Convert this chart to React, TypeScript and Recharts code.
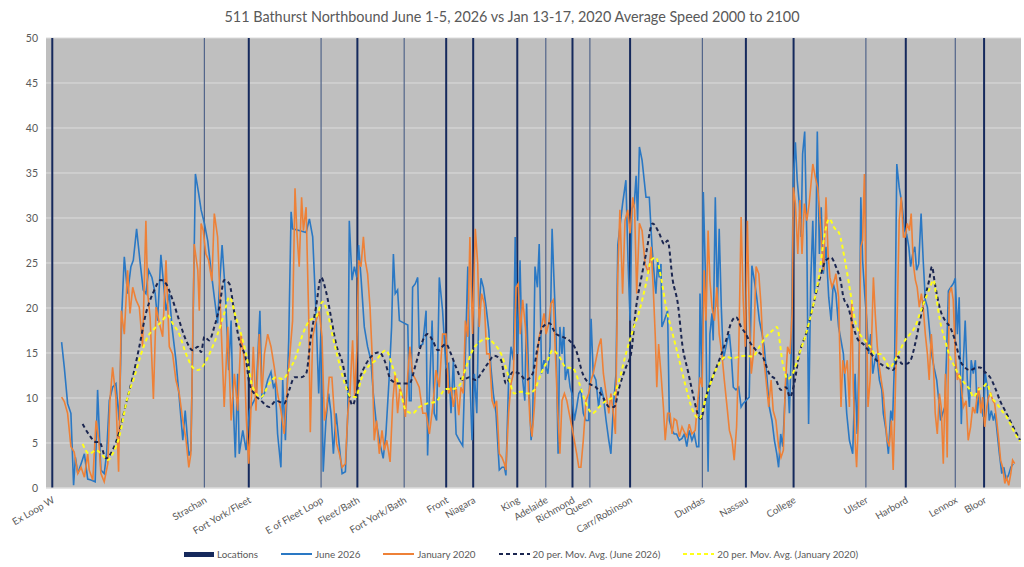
import React from "react";
import { ComposedChart, Line, Bar, XAxis, YAxis, CartesianGrid, Legend } from "recharts";

// Route positions (segment numbers along the route) of the stop/location markers
const locationNames = [
  "Ex Loop W", "Strachan", "Fort York/Fleet", "E of Fleet Loop", "Fleet/Bath", "Fort York/Bath",
  "Front", "Niagara", "King", "Adelaide", "Richmond", "Queen", "Carr/Robinson", "Dundas",
  "Nassau", "College", "Ulster", "Harbord", "Lennox", "Bloor",
];
const locationPositions = [
  2.1, 52.8, 67.6, 91.7, 103.8, 119.4, 133.4, 142.4, 157.1, 166.6, 175.5, 181.3, 194.7, 218.8,
  233.3, 249.2, 273.3, 286.6, 303.1, 312.7,
];
// minor (thin) markers vs major (heavy) markers
const locationMinor = [
  false, true, false, true, false, true, false, false, false, true, false, true, false, true,
  false, false, true, false, true, false,
];
const locationMarkHeight = 50;

const yTicks = [0, 5, 10, 15, 20, 25, 30, 35, 40, 45, 50];

// [route position, average speed km/h]
const june2026: [number, number][] = [
  [5.2,16.2],[6.1,13.4],[7.2,9.4],[8.3,8.3],[9.2,0.3],[9.8,3.4],[10.6,1.6],[11.7,2.7],[12.8,3.8],[13.9,1.0],[15,0.9],[16.4,0.7],[17.2,10.9],[18.3,2.0],[19.4,1.6],[20.2,3.8],[21.1,9.7],[22.2,11.2],[23.3,11.6],[24.4,7.5],[25.3,19.7],[26.1,25.7],[27.2,21.6],[28.3,24.6],[29.1,25.3],[30.2,28.8],[31.3,25.3],[32.4,22.0],[33.3,21.6],[34.2,24.2],[35.3,23.4],[36.4,21.6],[37.2,18.6],[38.3,25.9],[39.1,23.0],[40,19.7],[41.1,21.6],[42,17.9],[43.3,14.2],[44.4,10.1],[45.6,5.3],[46.4,8.6],[47.6,3.6],[48.3,4.2],[48.9,15.7],[49.8,34.9],[50.9,32.7],[51.7,30.9],[52.8,29.4],[53.9,27.5],[55,24.2],[56.1,21.2],[57.2,18.3],[57.8,22.3],[58.7,27.0],[59.8,21.6],[60.9,13.1],[61.7,18.6],[62.2,11.2],[63.1,3.4],[63.9,12.7],[64.4,3.8],[65.6,6.4],[66.7,4.2],
  [67.8,8.6],[68.9,9.4],[70,10.1],[71.3,19.7],[72,10.1],[72.8,10.5],[73.9,12.0],[75,12.9],[75.8,11.2],[76.4,11.6],[77.2,6.0],[78.3,2.3],[78.9,12.0],[79.8,5.3],[80.9,16.4],[81.7,30.7],[82.2,28.8],[84.4,28.6],[86.7,28.4],[87.8,29.9],[88.9,27.9],[90,19.4],[90.9,10.5],[91.7,17.9],[92.4,1.8],[93.3,7.5],[94.2,10.5],[95,8.3],[95.8,3.8],[96.7,8.3],[97.8,4.6],[98.7,1.6],[99.8,1.8],[100.6,8.3],[101.1,29.7],[102,23.1],[102.8,24.6],[103.6,23.4],[104.2,27.0],[105,23.4],[106.1,17.9],[107.2,15.7],[108.3,14.2],[109.1,10.5],[110,7.5],[111.1,5.3],[112.4,3.3],[113.3,6.0],[114.4,12.3],[115.2,17.9],[115.8,26.0],[116.4,21.6],[117.2,22.0],[117.8,18.6],[118.9,18.4],[120.6,18.1],[121.1,9.7],[121.7,9.7],[122.2,22.3],[123.1,22.7],[123.9,23.4],[124.4,15.7],[125.6,16.0],[126.7,19.7],[127.2,3.6],[127.8,10.5],[128.7,18.6],[129.4,8.3],[130.2,7.5],[131.1,23.4],[132.2,19.7],
  [133.3,13.4],[134.2,13.8],[135,8.3],[135.8,14.2],[136.7,6.0],[137.8,5.3],[138.9,4.7],[139.8,14.9],[140.6,24.6],[141.3,12.3],[142,5.3],[142.8,12.7],[143.6,8.3],[144.2,18.6],[145,23.3],[145.8,22.3],[146.7,20.1],[147.6,17.5],[148.3,13.4],[149.1,10.5],[150,8.3],[151.1,2.0],[152,2.3],[152.8,2.3],[153.3,1.4],[154.2,12.0],[155,15.7],[155.8,14.2],[156.4,27.9],[157.2,14.9],[158,25.3],[158.9,12.0],[159.6,9.7],[160.2,20.5],[160.9,12.0],[161.7,5.3],[162.2,7.1],[163,24.6],[163.8,22.3],[164.4,27.1],[165.2,12.7],[166,14.2],[166.7,13.4],[167.3,12.7],[168,15.7],[168.7,28.8],[169.3,23.4],[170,17.1],[170.7,3.8],[171.3,17.9],[172,14.9],[172.6,17.9],[173.1,12.0],[173.9,13.4],[174.7,11.2],[175.3,10.5],[176.1,7.5],[176.9,9.0],[177.6,10.5],[178.3,10.9],[179.1,8.3],[180,7.5],[180.9,7.5],[181.7,18.8],[182.4,12.7],[183.3,12.0],[184.2,9.0],[185,11.2],[185.8,10.1],[186.7,7.5],[187.6,5.3],[188.3,3.8],[189.1,9.0],[190,12.7],[190.6,27.0],[191.3,29.0],[192.2,31.6],[193.3,34.2],[194,25.3],[194.7,18.6],[195.3,31.0],[196.1,31.6],[196.7,34.7],[197.2,29.7],[197.8,37.9],[198.7,36.4],
  [200,32.3],[201.1,32.3],[202,26.8],[202.8,23.4],[203.3,21.6],[203.9,25.3],[204.4,23.4],[205,24.9],[205.3,17.9],[206.1,18.6],[207.2,19.7],[207.8,7.5],[208.7,6.4],[209.4,6.0],[210.2,6.0],[211.1,5.3],[212,5.5],[212.8,6.0],[213.6,4.6],[214.4,6.4],[215.3,5.3],[216.1,6.0],[216.9,4.6],[217.6,4.6],[218,21.6],[218.7,12.0],[219.1,32.9],[219.8,23.8],[220.2,12.0],[220.7,1.8],[221.3,17.1],[222,19.4],[222.4,16.4],[223.1,32.3],[223.8,20.1],[224.4,28.8],[225.1,20.1],[225.8,14.2],[226.4,15.3],[227.1,16.4],[227.8,17.1],[228.4,14.9],[229.1,11.2],[230,10.9],[230.9,11.2],[231.7,9.0],[232.4,9.4],[233.3,9.7],[234.4,10.1],[235.3,24.7],[236.1,23.1],[236.9,21.2],[237.8,18.6],[238.7,17.1],[239.4,15.7],[240.2,12.7],[241.1,9.0],[242,7.5],[242.8,5.3],[243.6,3.8],[244.2,2.3],[244.9,6.0],[245.6,4.6],[246.4,10.5],[247.1,12.7],[247.8,8.3],[248.4,14.9],[249.1,34.2],[249.8,38.4],[250.4,34.2],[251.1,31.6],[251.7,27.9],[252.2,37.1],[252.9,39.6],[253.6,27.9],[254.2,7.1],[254.9,22.7],[255.6,29.7],[256.2,21.6],[256.7,29.7],[257.1,39.6],[257.8,26.0],[258.4,31.2],[259.1,23.8],[260,26.8],[260.9,21.2],[261.7,18.6],[262.4,22.7],[263.3,21.6],[264.2,17.9],
  [265.8,14.9],[266.9,8.3],[267.8,5.3],[268.9,3.8],[269.7,12.7],[270.4,6.0],[271.1,15.7],[271.6,32.3],[272.2,25.3],[272.9,21.6],[273.6,18.6],[274.2,14.9],[274.9,17.1],[275.6,12.7],[276.3,14.2],[276.9,14.9],[277.8,12.0],[278.6,10.9],[279.1,8.3],[280,6.4],[280.8,3.8],[281.6,8.6],[282.2,7.5],[282.9,14.9],[283.6,36.0],[284.4,33.4],[285.3,31.6],[286.2,28.6],[286.9,28.2],[287.6,26.8],[288.2,24.6],[288.9,26.0],[289.6,26.8],[290.2,24.2],[290.9,24.9],[291.7,30.5],[292.4,25.3],[293.1,20.9],[293.8,20.1],[294.4,17.9],[295.2,14.9],[296,13.4],[296.9,12.0],[297.6,9.7],[298.2,7.5],[298.9,8.3],[299.6,9.0],[300.2,14.9],[300.8,21.9],[301.6,22.3],[302.4,22.7],[303.1,23.3],[303.8,17.1],[304.4,21.2],[305.1,7.1],[305.8,14.2],[306.4,18.6],[307.1,12.0],[307.8,9.0],[308.4,14.2],[309.1,12.7],[309.8,14.2],[310.4,8.3],[311.1,10.5],[311.8,9.0],[312.4,7.9],[313.1,12.7],[313.8,11.2],[314.4,7.5],[315.1,8.6],[315.8,7.5],[316.4,8.3],[317.1,6.0],[317.8,3.8],[318.6,1.6],[319.3,2.3],[320,0.9],[320.8,1.4],[321.6,2.3],[322.4,2.7],
];

const january2020: [number, number][] = [
  [5.2,10.1],[6.1,9.6],[7.2,8.3],[8.3,4.6],[9.4,4.0],[10.6,1.6],[11.7,2.3],[12.8,1.2],[13.9,3.8],[14.4,2.0],[15.6,0.9],[16.7,7.5],[17.6,5.3],[18.3,1.6],[19.4,0.7],[20.6,2.7],[21.3,9.7],[22.2,13.4],[23.3,10.1],[24.2,1.8],[25.1,19.7],[26.1,17.1],[27.2,24.2],[28,19.4],[28.9,22.3],[30,20.9],[31.1,20.1],[32.2,15.7],[33.3,29.7],[33.9,21.6],[34.7,19.0],[35.8,9.9],[36.7,20.1],[37.8,18.3],[38.9,16.8],[40,25.3],[41.1,15.7],[42.2,14.9],[43.3,12.0],[44.4,10.5],[45.6,7.5],[46.7,5.3],[47.6,2.3],[48.3,3.8],[49.4,27.1],[50.6,24.2],[51.1,19.7],[51.7,29.4],[52.4,28.6],[53.3,26.0],[54.2,25.3],[55.3,23.0],[56.1,30.5],[57.2,27.9],[58.3,18.6],[59.4,9.0],[60.6,17.9],[61.7,7.5],[62.8,12.7],[63.9,8.6],[65,17.1],[66.1,14.2],[66.8,7.5],
  [67.6,2.7],[68.3,8.6],[69.1,15.7],[70,8.6],[71.1,17.1],[72,10.5],[72.8,14.9],[73.9,17.1],[75,15.7],[76.1,13.4],[77.2,10.5],[78.3,8.6],[79.4,6.0],[80.6,12.3],[81.3,14.9],[82.2,18.6],[83,33.3],[83.6,28.6],[84.4,24.6],[85.2,32.3],[85.8,28.6],[86.7,31.2],[87.6,18.6],[88.1,6.2],[88.9,16.8],[90,18.6],[91.1,19.6],[92,16.8],[92.8,7.5],[93.6,9.0],[94.4,12.3],[95.3,12.3],[96.1,8.3],[96.9,4.9],[97.8,3.8],[98.7,2.3],[99.8,2.7],[100.6,8.3],[101.3,10.5],[102.2,16.4],[102.9,10.1],[103.6,15.3],[104.2,25.3],[105,24.6],[105.8,27.9],[106.4,25.3],[107.2,23.8],[108,20.1],[108.7,14.9],[109.4,5.3],[110.2,7.5],[111.1,3.8],[112,6.4],[112.8,4.2],[113.6,5.3],[114.7,2.9],[115.6,9.7],[116.4,12.7],[117.2,8.3],[118,11.2],[118.9,10.1],[119.8,7.9],[120.6,12.7],[121.3,15.7],[122.2,12.7],[123.3,12.0],[124.4,11.2],[125.6,8.3],[126.7,8.3],[127.8,6.0],[128.9,9.0],[130,13.1],[131.1,11.2],[132.2,17.1],
  [133.3,17.1],[134.2,10.5],[135,11.2],[135.8,9.0],[136.7,11.2],[137.6,8.1],[138.3,11.2],[139.1,10.5],[139.8,18.6],[140.6,16.8],[141.3,27.9],[142.2,17.1],[143.1,28.8],[143.9,24.9],[144.4,17.9],[145.2,21.6],[146.1,20.5],[146.9,14.9],[147.8,14.9],[148.7,9.7],[149.4,9.0],[150.2,9.7],[151.1,3.8],[152,3.4],[152.8,2.7],[153.3,2.0],[154.2,8.3],[155,11.6],[155.8,12.7],[156.7,22.3],[157.4,22.7],[158.1,17.1],[158.9,20.9],[159.8,17.9],[160.6,12.7],[161.3,7.5],[162,5.7],[162.8,9.0],[163.6,14.2],[164.4,16.8],[165.2,17.9],[166,19.4],[166.7,17.1],[167.6,18.3],[168.3,20.5],[169.1,20.9],[169.8,14.9],[170.6,8.3],[171.3,3.8],[172,9.7],[172.8,10.5],[173.6,9.7],[174.4,8.3],[175.3,6.8],[176.1,5.3],[176.9,3.8],[177.6,2.3],[178.3,2.3],[179.1,5.3],[180,9.7],[180.9,10.5],[181.7,12.0],[182.4,12.7],[183.3,14.2],[184.2,15.7],[185,16.6],[185.8,12.7],[186.7,10.5],[187.6,8.3],[188.3,10.5],[189.1,8.3],[189.8,6.0],[190.6,23.8],[191.3,30.9],[192.2,21.6],[193,29.7],[193.9,30.9],[194.7,28.3],[195.6,32.3],[196.2,30.9],[196.9,21.6],[197.8,29.4],[198.7,28.6],[199.7,24.9],
  [200.9,23.8],[201.7,26.8],[202.4,22.3],[203.1,16.8],[203.6,11.2],[204.2,16.0],[205,12.7],[205.8,9.0],[206.4,5.3],[207.2,8.3],[208,8.3],[208.7,6.0],[209.4,7.7],[210.2,7.5],[211.1,5.7],[212,6.8],[212.8,6.2],[213.6,5.7],[214.4,7.1],[215.3,6.0],[216.4,6.4],[217.2,9.4],[218,12.3],[218.7,11.2],[219.4,24.2],[220,18.6],[220.7,28.6],[221.3,23.1],[222,20.1],[222.8,18.6],[223.6,22.3],[224.4,17.1],[225.3,14.9],[226.1,12.0],[226.9,9.4],[227.8,6.4],[228.7,5.3],[229.4,3.1],[230.2,6.8],[230.9,14.9],[231.7,30.1],[232.4,20.9],[233.1,15.7],[233.8,29.7],[234.4,19.4],[235.1,12.7],[235.8,14.9],[236.7,24.6],[237.6,23.8],[238.3,20.5],[239.1,14.9],[240,12.0],[240.9,9.0],[241.7,12.0],[242.4,8.6],[243.3,7.5],[244.2,4.6],[245,3.4],[245.8,4.2],[246.4,11.2],[247.2,15.7],[248,14.9],[248.7,19.4],[249.1,33.4],[249.8,31.6],[250.6,26.0],[251.3,32.0],[252,26.0],[252.8,31.6],[253.6,29.7],[254.4,31.6],[255.6,36.0],[256.4,34.6],[257.2,33.4],[257.8,31.2],[258.6,26.8],[259.2,24.2],[260,32.3],[260.7,26.0],[261.3,23.4],[262,22.3],[262.8,23.1],[263.3,23.8],[264.2,21.2],[265,9.0],
  [265.6,14.2],[266.3,12.7],[267.1,14.2],[267.8,9.0],[268.6,20.9],[269.1,11.2],[269.7,5.3],[270.2,2.3],[270.8,7.5],[271.6,26.8],[272.2,27.5],[272.8,34.9],[273.3,23.1],[274,9.0],[274.7,12.0],[275.2,16.4],[275.8,23.4],[276.4,19.4],[277.1,15.7],[277.8,13.4],[278.4,12.0],[279.1,10.5],[279.8,7.5],[280.4,5.3],[281.1,4.6],[281.8,7.5],[282.4,2.0],[283.1,10.5],[283.8,20.1],[284.4,29.7],[285.1,32.3],[285.8,27.9],[286.4,27.9],[287.1,29.4],[287.8,28.6],[288.4,30.5],[289.1,24.9],[289.8,23.1],[290.4,22.3],[291.1,20.1],[291.8,21.6],[292.4,20.1],[293.1,17.1],[293.8,14.9],[294.4,12.0],[295.1,17.1],[295.8,13.8],[296.4,8.3],[297.1,6.0],[297.8,10.5],[298.4,9.0],[299.1,2.7],[299.8,12.7],[300.4,3.4],[301.1,21.6],[301.8,22.3],[302.4,20.9],[303.1,14.9],[303.8,12.0],[304.4,12.7],[305.1,11.2],[305.8,9.0],[306.7,9.7],[307.4,5.3],[308.2,6.8],[308.9,9.0],[309.6,8.3],[310.2,9.7],[310.9,11.2],[311.6,8.3],[312.2,10.1],[312.9,6.8],[313.6,9.0],[314.2,10.1],[314.9,10.5],[315.6,9.7],[316.2,9.4],[316.9,7.5],[317.6,5.3],[318.2,3.1],[318.9,2.3],[319.6,0.5],[320.2,1.2],[320.9,0.3],[321.6,1.6],[322.2,3.1],[322.9,2.7],
];

const movAvgJune2026: [number, number][] = [
  [12.2,7.1],[14.4,5.9],[16.7,5.1],[17.8,5.1],[20,3.3],[22.2,4.2],[24.4,6.2],[26.7,9.4],[28.9,12.3],[31.1,15.7],[33.3,19.4],[35.6,21.6],[38.3,23.1],[40,22.7],[42.2,20.9],[44.4,18.6],[46.7,16.4],[48.9,15.3],[50.6,15.7],[51.7,15.1],[52.8,16.8],[54.4,16.4],[56.1,17.9],[57.8,20.1],[59.4,23.1],[61.1,22.7],[62.8,19.4],[64.4,16.4],[66.7,14.2],
  [67.8,11.6],[69.4,10.5],[71.7,9.7],[74.4,9.0],[76.7,9.7],[79.4,9.4],[81.1,10.9],[82.8,12.3],[85,12.3],[86.7,12.7],[88.3,16.8],[90,20.1],[91.7,23.4],[93.3,21.9],[95,19.0],[96.7,16.0],[98.9,13.8],[100.6,10.9],[102.2,9.2],[104.4,12.0],[106.7,13.8],[109.4,14.9],[111.1,15.1],[112.8,14.2],[115,12.0],[117.8,11.6],[121.1,11.6],[123.3,13.8],[125.6,16.4],[127.2,17.1],[128.9,16.4],[130.6,15.3],
  [133.3,16.0],[135,14.9],[136.7,13.4],[138.9,12.0],[141.1,12.3],[143.3,12.0],[145,12.7],[147.2,13.8],[149.4,14.7],[151.7,14.2],[153.3,11.6],[155.6,12.9],[157.8,12.7],[160,12.0],[162.2,12.7],[163.9,15.7],[165.6,17.9],[167.8,18.3],[170,17.1],[172.2,16.8],[174.4,16.4],[176.7,15.3],[178.9,12.7],[181.1,11.6],[183.3,11.2],[185.6,10.1],[187.8,9.0],[189.4,9.0],[191.1,11.2],[193.3,13.4],[195,14.9],[196.7,20.1],[198.3,23.1],
  [200,26.0],[202.2,29.4],[204.4,28.3],[206.1,27.1],[207.2,27.5],[208.9,23.1],[210.6,20.5],[212.2,15.7],[213.9,13.1],[215.6,10.5],[217.2,8.3],[218.3,7.7],[220,10.1],[222.2,12.3],[224.4,14.2],[226.7,16.4],[228.3,18.3],[230,19.0],[231.7,17.9],[233.3,17.1],[235,16.0],[236.7,15.3],[238.9,14.6],[241.1,12.7],[243.3,12.0],[245,10.9],[246.7,11.2],[248,10.1],[249.4,11.6],[251.1,14.9],[253.3,17.1],[255.6,20.1],[257.8,23.1],[260,25.3],[261.7,25.6],[263.3,24.6],[265,22.8],
  [265.8,21.2],[267.4,20.1],[269.1,17.9],[270.8,16.4],[272.4,16.0],[274.1,15.3],[275.8,14.6],[277.4,14.0],[279.1,13.6],[280.8,13.3],[282.4,13.1],[284.1,14.6],[285.2,13.8],[286.9,13.8],[288.2,14.2],[289.7,16.0],[291.3,18.6],[293,21.2],[294.4,23.1],[295.3,24.6],[296.3,22.7],[298,19.9],[299.7,18.6],[301.3,17.9],[303,16.4],[304.7,14.2],[306.3,13.4],[308,13.1],[309.7,13.3],[311.3,13.4],[313,12.9],[314.7,12.3],[316.3,11.2],[318,9.7],[319.7,8.6],[321.3,7.5],[323,6.4],[324.7,5.3],
];

const movAvgJanuary2020: [number, number][] = [
  [12.2,4.9],[14.4,3.8],[16.7,4.2],[18.9,3.6],[20.6,3.1],[22.2,3.8],[24.4,5.7],[27.2,10.1],[29.4,12.3],[31.7,14.9],[33.9,16.8],[36.1,17.7],[38.3,18.4],[40.6,19.2],[42.2,18.3],[44.4,17.1],[46.7,14.9],[48.9,13.4],[50.6,13.1],[52.8,13.8],[55,15.3],[57.2,17.1],[59.4,19.4],[61.1,21.2],[63.3,19.0],[65.6,16.4],[66.7,14.9],
  [68.9,11.2],[71.7,10.1],[74.4,11.6],[76.7,12.3],[78.9,12.1],[81.1,13.1],[83.3,14.6],[85.6,17.1],[87.8,18.6],[90,19.0],[92.2,20.7],[93.9,19.4],[95.6,16.8],[97.8,13.8],[100,11.2],[101.7,10.1],[103.3,10.1],[105,12.0],[107.2,13.4],[110,14.2],[113.3,15.3],[115.6,13.4],[117.8,11.2],[120,8.6],[122.2,8.3],[124.4,9.0],[127.2,9.4],[130,9.6],[133.3,11.0],
  [135.6,11.0],[137.8,11.4],[140,13.4],[142.2,15.3],[144.4,16.2],[147.2,16.6],[149.4,16.0],[151.7,14.9],[153.9,12.7],[156.1,10.5],[158.3,10.7],[160.6,10.5],[162.8,10.9],[165,12.7],[167.2,14.2],[168.9,15.3],[171.1,14.6],[173.3,13.4],[175.6,13.3],[177.8,11.6],[180,9.4],[182.2,8.3],[184.4,9.0],[186.7,9.7],[188.9,10.1],[191.1,12.0],[193.3,14.9],[195.6,17.5],[197.8,19.7],
  [200,22.7],[201.7,25.3],[203.3,25.6],[205,23.4],[206.7,20.1],[208.9,17.1],[211.1,14.2],[213.3,11.2],[215.6,8.6],[217.8,7.7],[220,10.1],[222.2,12.3],[224.4,13.8],[226.7,14.6],[228.9,14.4],[231.1,14.6],[233.3,14.7],[235.6,14.6],[237.8,15.7],[240,16.8],[242.2,17.5],[243.6,17.9],[245.6,13.8],[247.2,12.1],[248.9,12.7],[251.1,14.9],[253.3,17.1],[255.6,20.1],[257.8,23.8],[259.4,27.9],[261.1,29.9],[262.8,28.9],[264.4,28.3],
  [266.3,25.3],[268,22.0],[269.7,18.6],[271.3,17.1],[273,16.4],[274.7,15.7],[276.3,14.9],[278,14.9],[279.7,14.2],[281.3,13.4],[283,14.2],[284.7,15.3],[286.3,16.4],[288,17.1],[289.7,17.9],[291.3,19.4],[293,20.9],[294.7,22.3],[295.8,23.1],[296.9,20.9],[298,18.6],[299.7,16.4],[301.3,14.6],[303,13.4],[304.7,12.3],[306.3,11.6],[308,10.9],[309.1,10.1],[310.8,10.9],[312.4,11.2],[313.6,11.6],[315.2,10.1],[316.9,9.4],[318.6,8.6],[320.2,7.9],[321.9,6.8],[323.6,5.7],[324.7,5.2],
];

const COLORS = {
  locations: "#15295c",
  locationsMinor: "#52658a",
  june: "#2a78c4",
  january: "#ee8137",
  maJune: "#1b2650",
  maJanuary: "#ffff1a",
  text: "#595959",
  plot: "#bfbfbf",
  grid: "#dcdcdc",
};

const FONT = "Lato, 'Open Sans', sans-serif";

const toRows = (arr: [number, number][]) => arr.map(([pos, speed]) => ({ pos, speed }));

const locationRows = locationPositions.map((pos, i) => ({
  pos,
  mark: locationMarkHeight,
  name: locationNames[i],
  minor: locationMinor[i],
}));

const LocationShape = (props: any) => {
  const { x, y, width, height, payload } = props;
  const minor = payload && payload.minor;
  const w = minor ? 1.2 : 2;
  const cx = x + width / 2;
  return (
    <rect
      x={cx - w / 2}
      y={y}
      width={w}
      height={height}
      fill={minor ? COLORS.locationsMinor : COLORS.locations}
    />
  );
};

const LocationTick = (props: any) => {
  const { x, y, payload } = props;
  const idx = locationPositions.indexOf(payload.value);
  const label = idx >= 0 ? locationNames[idx] : "";
  return (
    <g transform={`translate(${x + 3},${y + 6})`}>
      <text
        textAnchor="end"
        transform="rotate(-30)"
        fill={COLORS.text}
        fontSize={9.8}
        fontFamily={FONT}
      >
        {label}
      </text>
    </g>
  );
};

const LegendContent = () => {
  const item = (swatch: React.ReactNode, label: string, last = false) => (
    <div style={{ display: "flex", alignItems: "center", marginRight: last ? 0 : 23 }}>
      {swatch}
      <span style={{ marginLeft: 3, color: COLORS.text, fontSize: 9.8, fontFamily: FONT, whiteSpace: "nowrap" }}>{label}</span>
    </div>
  );
  const line = (color: string, dashed: boolean) => (
    <svg width={31} height={8} style={{ display: "block" }}>
      <line
        x1={0}
        y1={4}
        x2={31}
        y2={4}
        stroke={color}
        strokeWidth={2}
        strokeDasharray={dashed ? "4 3" : undefined}
      />
    </svg>
  );
  return (
    <div style={{ display: "flex", justifyContent: "center", alignItems: "center", paddingLeft: 18 }}>
      {item(<div style={{ width: 30, height: 5, background: COLORS.locations }} />, "Locations")}
      {item(line(COLORS.june, false), "June 2026")}
      {item(line(COLORS.january, false), "January 2020")}
      {item(line(COLORS.maJune, true), "20 per. Mov. Avg. (June 2026)")}
      {item(line(COLORS.maJanuary, true), "20 per. Mov. Avg. (January 2020)", true)}
    </div>
  );
};

export default function App() {
  return (
    <div style={{ position: "absolute", left: 0, top: 0, width: 1024, height: 567, background: "#fff", fontFamily: FONT }}>
      <div
        style={{
          position: "absolute",
          left: 0,
          top: 8,
          width: 1024,
          textAlign: "center",
          fontSize: 14.4,
          color: COLORS.text,
          fontFamily: FONT,
          zIndex: 2,
        }}
      >
        511 Bathurst Northbound June 1-5, 2026 vs Jan 13-17, 2020 Average Speed 2000 to 2100
      </div>
      <ComposedChart
        width={1024}
        height={567}
        data={locationRows}
        margin={{ top: 38, right: 3, bottom: 0, left: 6 }}
        style={{ fontFamily: FONT }}
      >
        <CartesianGrid vertical={false} stroke={COLORS.grid} fill={COLORS.plot} fillOpacity={1} />
        <XAxis
          dataKey="pos"
          type="number"
          domain={[0, 325]}
          ticks={locationPositions}
          interval={0}
          tick={<LocationTick />}
          tickLine={false}
          axisLine={{ stroke: COLORS.grid }}
          height={79}
          allowDataOverflow
        />
        <YAxis
          domain={[0, 50]}
          ticks={yTicks}
          interval={0}
          axisLine={false}
          tickLine={false}
          width={40}
          tick={{ fill: COLORS.text, fontSize: 10.5, fontFamily: FONT }}
        />
        <Bar dataKey="mark" name="Locations" barSize={2} shape={<LocationShape />} isAnimationActive={false} />
        <Line
          data={toRows(june2026)}
          dataKey="speed"
          name="June 2026"
          type="linear"
          stroke={COLORS.june}
          strokeWidth={1.6}
          dot={false}
          isAnimationActive={false}
        />
        <Line
          data={toRows(january2020)}
          dataKey="speed"
          name="January 2020"
          type="linear"
          stroke={COLORS.january}
          strokeWidth={1.6}
          dot={false}
          isAnimationActive={false}
        />
        <Line
          data={toRows(movAvgJune2026)}
          dataKey="speed"
          name="20 per. Mov. Avg. (June 2026)"
          type="monotone"
          stroke={COLORS.maJune}
          strokeWidth={2}
          strokeDasharray="4 3"
          dot={false}
          isAnimationActive={false}
        />
        <Line
          data={toRows(movAvgJanuary2020)}
          dataKey="speed"
          name="20 per. Mov. Avg. (January 2020)"
          type="monotone"
          stroke={COLORS.maJanuary}
          strokeWidth={2}
          strokeDasharray="4 3"
          dot={false}
          isAnimationActive={false}
        />
        <Legend
          verticalAlign="middle"
          layout="horizontal"
          content={<LegendContent />}
          wrapperStyle={{ position: "absolute", top: 548, left: 0, width: 1024 }}
        />
      </ComposedChart>
    </div>
  );
}
